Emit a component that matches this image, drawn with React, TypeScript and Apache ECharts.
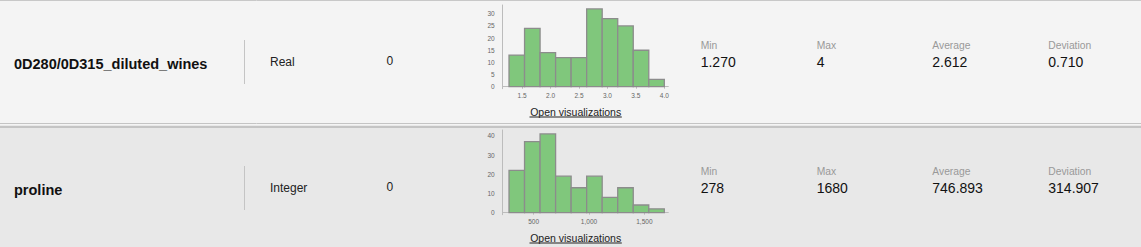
import React, { useEffect, useRef } from "react";
import * as echarts from "echarts";

// ---- data ----
const attrNames = ["0D280/0D315_diluted_wines", "proline"];
const attrTypes = ["Real", "Integer"];
const attrMissing = ["0", "0"];
const statLabels = ["Min", "Max", "Average", "Deviation"];
const winesStats = ["1.270", "4", "2.612", "0.710"];
const prolineStats = ["278", "1680", "746.893", "314.907"];

const winesEdges = [1.27, 1.543, 1.816, 2.089, 2.362, 2.635, 2.908, 3.181, 3.454, 3.727, 4.0];
const winesCounts = [13, 24, 14, 12, 12, 32, 28, 25, 15, 3];
const winesXTicks = [1.5, 2.0, 2.5, 3.0, 3.5, 4.0];
const winesYTicks = [0, 5, 10, 15, 20, 25, 30];

const prolineEdges = [278, 418.2, 558.4, 698.6, 838.8, 979, 1119.2, 1259.4, 1399.6, 1539.8, 1680];
const prolineCounts = [22, 37, 41, 19, 13, 19, 8, 13, 4, 2];
const prolineXTicks = [500, 1000, 1500];
const prolineYTicks = [0, 10, 20, 30, 40];

const FONT = "'Liberation Sans', Arial, sans-serif";
const W = 1141;
const H = 247;
const ROW = 126;

function binData(edges: number[], counts: number[]) {
  return counts.map((c, i) => [edges[i], edges[i + 1], c]);
}

const renderBar = (params: any, api: any) => {
  const p0 = api.coord([api.value(0), api.value(2)]);
  const p1 = api.coord([api.value(1), 0]);
  return {
    type: "rect",
    shape: { x: p0[0], y: p0[1], width: p1[0] - p0[0], height: p1[1] - p0[1] },
    style: { fill: "#80c77c", stroke: "#8c8c8c", lineWidth: 1.3 },
  };
};

function axisX(gridIndex: number, min: number, max: number, ticks: number[], fmt: (v: number) => string) {
  return {
    type: "value",
    gridIndex,
    min,
    max,
    axisLine: { show: true, lineStyle: { color: "#bcbcbc", width: 1 } },
    axisTick: { show: true, length: 2, customValues: ticks, lineStyle: { color: "#bcbcbc" } },
    axisLabel: {
      customValues: ticks,
      formatter: fmt,
      fontSize: 6.5,
      color: "#666",
      margin: 3,
      fontFamily: FONT,
    },
    splitLine: { show: false },
  };
}

function axisY(gridIndex: number, min: number, max: number, ticks: number[]) {
  return {
    type: "value",
    gridIndex,
    min,
    max,
    axisLine: { show: true, lineStyle: { color: "#bcbcbc", width: 1 } },
    axisTick: { show: false },
    axisLabel: {
      customValues: ticks,
      fontSize: 6.5,
      color: "#666",
      margin: 8,
      fontFamily: FONT,
    },
    splitLine: { show: false },
  };
}

function txt(text: string, x: number, y: number, size: number, color: string, weight = "normal", align = "left") {
  return {
    type: "text",
    z: 10,
    style: {
      text,
      x,
      y,
      fill: color,
      font: `${weight} ${size}px ${FONT}`,
      align,
      verticalAlign: "middle",
    },
  };
}

function rowGraphics(r: number, stats: string[]) {
  const dy = r * ROW;
  const statX = [700.7, 816.7, 932.3, 1048.3];
  const g: any[] = [];
  g.push(txt(attrNames[r], 14, 64 + dy, 14.5, "#111", "bold"));
  g.push({
    type: "line",
    z: 10,
    shape: { x1: 244.5, y1: 40 + dy, x2: 244.5, y2: 84 + dy },
    style: { stroke: "#c4c4c4", lineWidth: 1 },
  });
  g.push(txt(attrTypes[r], 270, 62 + dy, 12, "#222"));
  g.push(txt(attrMissing[r], 386.5, 60.5 + dy, 12, "#222"));
  statLabels.forEach((l, i) => {
    g.push(txt(l, statX[i], 45 + dy, 10.3, "#999"));
    g.push(txt(stats[i], statX[i], 61.7 + dy, 14, "#111"));
  });
  g.push(txt("Open visualizations", 575.7, 112.3 + dy, 10.5, "#222", "normal", "center"));
  g.push({
    type: "line",
    z: 10,
    shape: { x1: 529.5, y1: 117 + dy, x2: 621.8, y2: 117 + dy },
    style: { stroke: "#222", lineWidth: 1 },
  });
  return g;
}

export default function App() {
  const ref = useRef<HTMLDivElement>(null);
  useEffect(() => {
    if (!ref.current) return;
    const chart = echarts.init(ref.current, undefined, { renderer: "svg" });
    const gridLeft = 502.7;
    const gridRight = W - 668.3;
    chart.setOption({
      animation: false,
      backgroundColor: "#e8e8e8",
      grid: [
        { left: gridLeft, right: gridRight, top: 5, height: 83.7 },
        { left: gridLeft, right: gridRight, top: 130, height: 84.7 },
      ],
      xAxis: [
        axisX(0, 1.159, 4.07, winesXTicks, (v: number) => v.toFixed(1)),
        axisX(1, 221, 1716, prolineXTicks, (v: number) => v.toLocaleString("en-US")),
      ],
      yAxis: [axisY(0, -0.82, 33.6, winesYTicks), axisY(1, -1.04, 43.05, prolineYTicks)],
      series: [
        {
          type: "custom",
          xAxisIndex: 0,
          yAxisIndex: 0,
          renderItem: renderBar,
          encode: { x: [0, 1], y: 2 },
          data: binData(winesEdges, winesCounts),
        },
        {
          type: "custom",
          xAxisIndex: 1,
          yAxisIndex: 1,
          renderItem: renderBar,
          encode: { x: [0, 1], y: 2 },
          data: binData(prolineEdges, prolineCounts),
        },
      ],
      graphic: [
        { type: "rect", z: -100, shape: { x: 0, y: 0, width: W, height: 125 }, style: { fill: "#f4f4f4" } },
        { type: "line", z: -90, shape: { x1: 0, y1: 0.5, x2: W, y2: 0.5 }, style: { stroke: "#c8c8c8", lineWidth: 1 } },
        { type: "line", z: -90, shape: { x1: 0, y1: 123.5, x2: W, y2: 123.5 }, style: { stroke: "#c4c4c4", lineWidth: 1 } },
        { type: "line", z: -90, shape: { x1: 0, y1: 127, x2: W, y2: 127 }, style: { stroke: "#a0a0a0", lineWidth: 1.2 } },
        ...rowGraphics(0, winesStats),
        ...rowGraphics(1, prolineStats),
      ],
    });
    return () => chart.dispose();
  }, []);
  return (
    <div
      ref={ref}
      style={{ position: "fixed", left: 0, top: 0, width: W, height: H }}
    />
  );
}
